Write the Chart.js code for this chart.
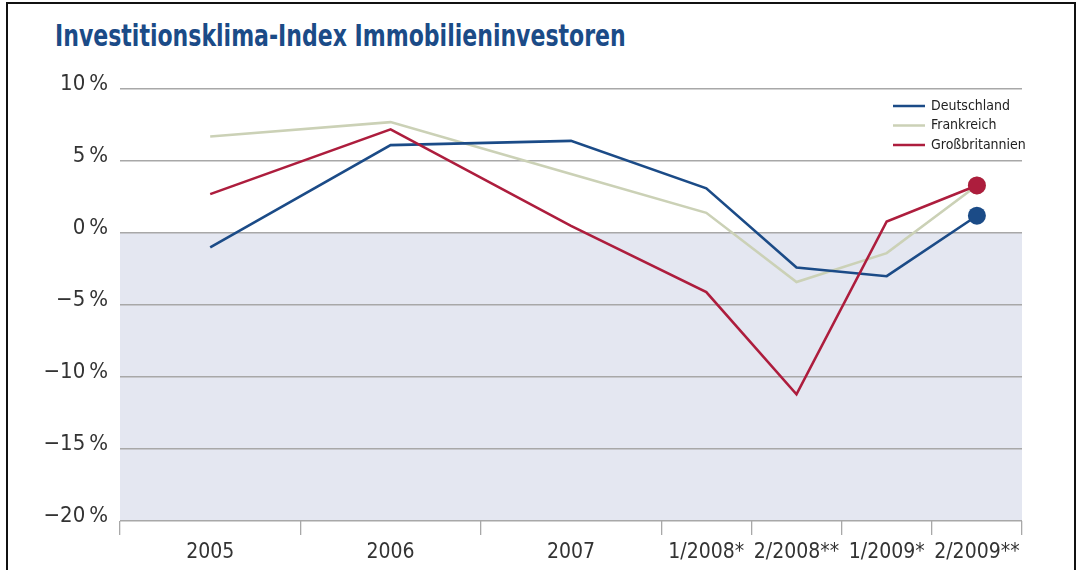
<!DOCTYPE html>
<html lang="de">
<head>
  <meta charset="UTF-8" />
  <title>Investitionsklima-Index Immobilieninvestoren</title>
  <style>
    html, body { margin: 0; padding: 0; background: #fff; }
    body { width: 1082px; height: 570px; position: relative; overflow: hidden; }
    .frame {
      position: absolute; left: 6px; top: 2px; width: 1070px; height: 620px;
      border: 2px solid #111; box-sizing: border-box;
    }
    h1 {
      position: absolute; left: 55px; top: 17px; margin: 0; white-space: nowrap;
      font-family: "Liberation Sans Narrow", "DejaVu Sans Condensed", "Open Sans", sans-serif;
      font-weight: bold; font-size: 31px; color: #1b4b87;
      transform: scaleX(0.79); transform-origin: left top;
    }
    #wrap { position: absolute; left: 0; top: 0; width: 1082px; height: 570px; }
  </style>
</head>
<body>
  <div class="frame"></div>
  <h1>Investitionsklima-Index Immobilieninvestoren</h1>
  <div id="wrap"><canvas id="climateChart"></canvas></div>

  <script src="https://cdn.jsdelivr.net/npm/chart.js"></script>
  <script>
    // Werte (in %)
    const categories = ['2005', '2006', '2007', '1/2008*', '2/2008**', '1/2009*', '2/2009**'];
    const deutschland = [-1.0, 6.1, 6.4, 3.1, -2.4, -3.0, 1.2];
    const frankreich = [6.7, 7.7, 4.1, 1.4, -3.4, -1.4, 3.3];
    const grossbritannien = [2.7, 7.2, 0.5, -4.1, -11.2, 0.8, 3.3];
    const yTicks = [-20, -15, -10, -5, 0, 5, 10];

    // Jahre sind doppelt so breit wie Halbjahre
    const catWidths = [1, 1, 1, 0.5, 0.5, 0.5, 0.5];
    const bounds = [0];
    catWidths.forEach(w => bounds.push(bounds[bounds.length - 1] + w));
    const centers = catWidths.map((w, i) => bounds[i] + w / 2);

    const FONT = '"Liberation Sans Narrow", "DejaVu Sans Condensed", "Open Sans", sans-serif';

    const toPoints = arr => arr.map((v, i) => ({ x: centers[i], y: v }));
    const lastOnly = r => ctx => ctx.dataIndex === categories.length - 1 ? r : 0;

    function series(label, data, color, order) {
      return {
        label, data: toPoints(data), borderColor: color, backgroundColor: color,
        pointBackgroundColor: color, pointBorderWidth: 0, borderWidth: 2.6,
        pointRadius: lastOnly(9), pointHoverRadius: lastOnly(9), tension: 0, order
      };
    }

    // hellblaue Fläche unterhalb der Nulllinie
    const negativeFill = {
      id: 'negativeFill',
      beforeDraw(chart) {
        const { ctx, chartArea, scales } = chart;
        const y0 = scales.y.getPixelForValue(0);
        ctx.save();
        ctx.fillStyle = '#e4e7f1';
        ctx.fillRect(chartArea.left, y0, chartArea.right - chartArea.left, chartArea.bottom - y0);
        ctx.restore();
      }
    };

    // Legende oben rechts im Diagramm
    const innerLegend = {
      id: 'innerLegend',
      afterDraw(chart) {
        const { ctx } = chart;
        ctx.save();
        ctx.font = '14px ' + FONT;
        ctx.textBaseline = 'middle';
        chart.data.datasets.forEach((ds, i) => {
          const y = 106 + i * 19.5;
          ctx.strokeStyle = ds.borderColor;
          ctx.lineWidth = 2.5;
          ctx.beginPath();
          ctx.moveTo(893, y);
          ctx.lineTo(925, y);
          ctx.stroke();
          ctx.fillStyle = '#222';
          ctx.fillText(ds.label, 931, y);
        });
        ctx.restore();
      }
    };

    const allXTicks = bounds.concat(centers).sort((a, b) => a - b);

    new Chart(document.getElementById('climateChart'), {
      type: 'line',
      data: {
        datasets: [
          series('Deutschland', deutschland, '#1b4b87', 1),
          series('Frankreich', frankreich, '#cbd1b6', 2),
          series('Großbritannien', grossbritannien, '#ad1d3d', 0)
        ]
      },
      options: {
        responsive: true,
        maintainAspectRatio: false,
        animation: false,
        layout: { padding: { left: 8, right: 60, top: 89, bottom: 0 } },
        plugins: { legend: { display: false }, tooltip: { enabled: false } },
        scales: {
          x: {
            type: 'linear',
            min: bounds[0],
            max: bounds[bounds.length - 1],
            afterBuildTicks: scale => { scale.ticks = allXTicks.map(v => ({ value: v })); },
            afterFit: scale => { scale.height = 570 - 521; },
            border: { display: false },
            grid: {
              drawOnChartArea: false,
              drawTicks: true,
              tickLength: 14,
              lineWidth: 1.3,
              color: ctx => bounds.includes(ctx.tick && ctx.tick.value) ? '#a8a8a8' : 'rgba(0,0,0,0)'
            },
            ticks: {
              autoSkip: false,
              maxRotation: 0,
              padding: 5,
              color: '#333',
              font: { family: FONT, size: 21 },
              callback: v => {
                const i = centers.indexOf(v);
                return i >= 0 ? categories[i] : '';
              }
            }
          },
          y: {
            min: yTicks[0],
            max: yTicks[yTicks.length - 1],
            afterBuildTicks: scale => { scale.ticks = yTicks.map(v => ({ value: v })); },
            afterFit: scale => { scale.width = 112; },
            border: { display: false },
            grid: { drawTicks: false, color: '#a8a8a8', lineWidth: 1.5 },
            ticks: {
              padding: 12,
              labelOffset: -5,
              color: '#333',
              font: { family: FONT, size: 22 },
              callback: v => (v < 0 ? '\u2212' : '') + Math.abs(v) + '\u2009%'
            }
          }
        }
      },
      plugins: [negativeFill, innerLegend]
    });
  </script>
</body>
</html>
